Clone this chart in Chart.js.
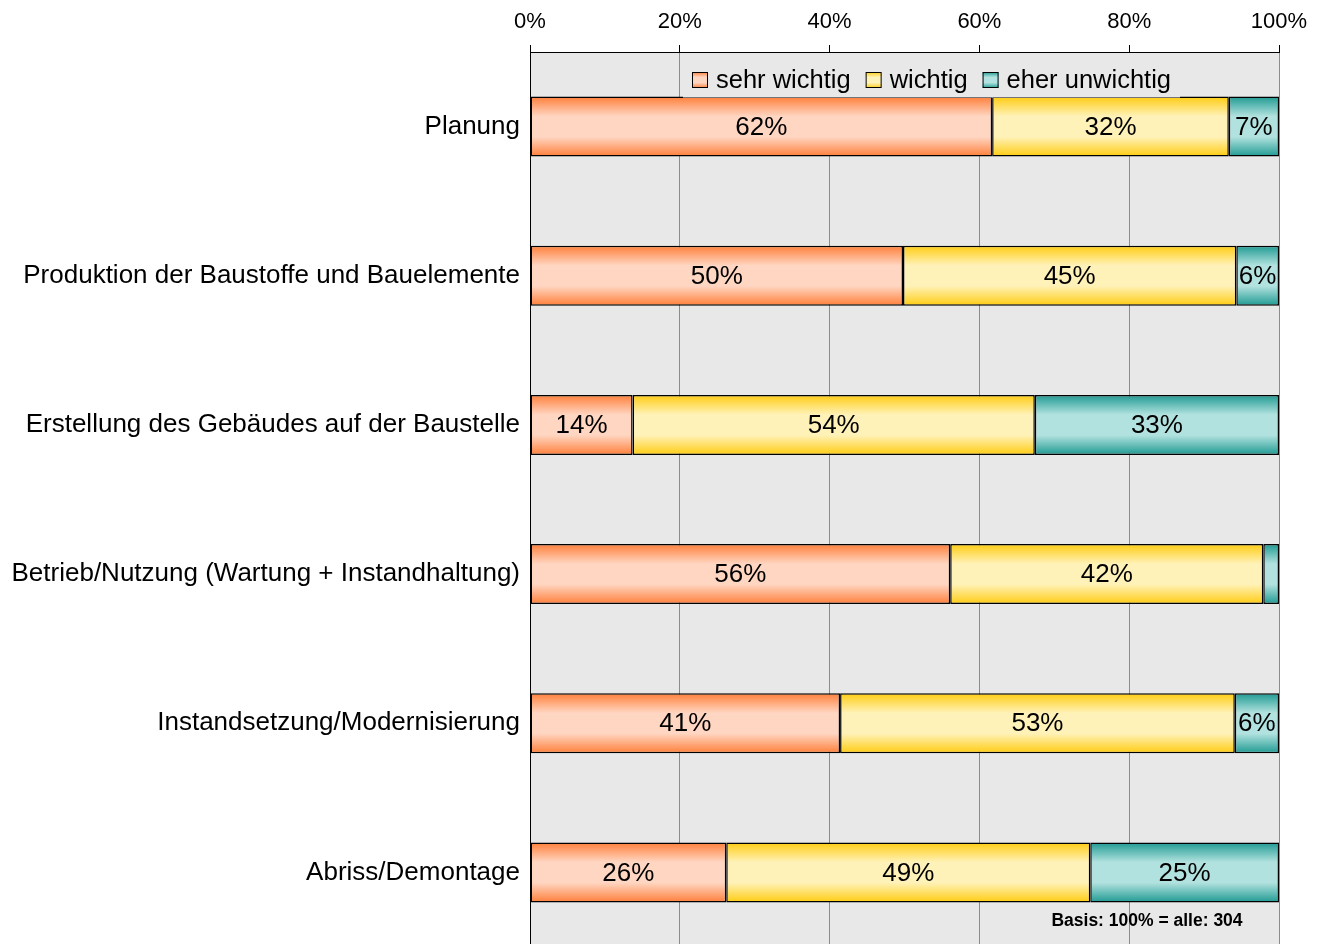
<!DOCTYPE html>
<html>
<head>
<meta charset="utf-8">
<script src="https://cdn.jsdelivr.net/npm/chart.js@4.4.1/dist/chart.umd.min.js"></script>
<style>
  html, body { margin: 0; padding: 0; background: #ffffff; overflow: hidden; }
  #wrap { position: relative; width: 1322px; height: 947px; }
</style>
</head>
<body>
<div id="wrap"><canvas id="c" width="1322" height="947"></canvas></div>
<script>
// ---- data ----
const categories = [
  "Planung",
  "Produktion der Baustoffe und Bauelemente",
  "Erstellung des Gebäudes auf der Baustelle",
  "Betrieb/Nutzung (Wartung + Instandhaltung)",
  "Instandsetzung/Modernisierung",
  "Abriss/Demontage"
];
const seriesNames = ["sehr wichtig", "wichtig", "eher unwichtig"];
const sehrWichtig    = [61.7, 49.8, 13.7, 56.1, 41.4, 26.2];
const wichtig        = [31.6, 44.5, 53.7, 41.8, 52.7, 48.6];
const eherUnwichtig  = [6.7, 5.7, 32.6, 2.1, 5.9, 25.2];
const tickValues = [0, 20, 40, 60, 80, 100];
const basisText = "Basis: 100% = alle: 304";

// ---- styles ----
const FONT = "'Liberation Sans', Arial, sans-serif";
const gradColors = [
  { edge: "#ff7f3a", light: "#ffd6c2" },
  { edge: "#ffcc11", light: "#fff2b8" },
  { edge: "#1f9a92", light: "#b2e2df" }
];
const PLOT_BG = "#e8e8e8";

function makeGrad(ctx, top, bottom, c) {
  const g = ctx.createLinearGradient(0, top, 0, bottom);
  g.addColorStop(0, c.edge);
  g.addColorStop(0.33, c.light);
  g.addColorStop(0.67, c.light);
  g.addColorStop(1, c.edge);
  return g;
}

function barFill(si) {
  return function (context) {
    const chart = context.chart;
    if (!chart.chartArea || !chart.scales.y) return gradColors[si].light;
    const y = chart.scales.y.getPixelForValue(context.dataIndex);
    const h = 60;
    return makeGrad(chart.ctx, y - h / 2, y + h / 2, gradColors[si]);
  };
}

const plotBg = {
  id: "plotBg",
  beforeDraw(chart) {
    const { ctx, chartArea: a } = chart;
    ctx.save();
    ctx.fillStyle = PLOT_BG;
    ctx.fillRect(a.left, a.top, a.right - a.left, a.bottom - a.top);
    ctx.restore();
  }
};

const overlay = {
  id: "overlay",
  afterDatasetsDraw(chart) {
    const ctx = chart.ctx;
    ctx.save();
    // legend box (covers gridlines and top bar border)
    ctx.fillStyle = PLOT_BG;
    ctx.fillRect(683, 53, 497, 44.5);
    ctx.font = "25.5px " + FONT;
    ctx.textBaseline = "middle";
    ctx.textAlign = "left";
    let x = 692;
    const ly = 80;
    seriesNames.forEach((name, i) => {
      ctx.fillStyle = makeGrad(ctx, ly - 8, ly + 8, gradColors[i]);
      ctx.fillRect(x, ly - 8, 16, 16);
      ctx.strokeStyle = "#000";
      ctx.lineWidth = 1;
      ctx.strokeRect(x + 0.5, ly - 7.5, 15, 15);
      ctx.fillStyle = "#000";
      ctx.fillText(name, x + 24, ly + 1);
      x += 24 + ctx.measureText(name).width + 15;
    });

    // data labels
    ctx.font = "26px " + FONT;
    ctx.textAlign = "center";
    ctx.fillStyle = "#000";
    chart.data.datasets.forEach((ds, di) => {
      const meta = chart.getDatasetMeta(di);
      meta.data.forEach((bar, i) => {
        const v = ds.data[i];
        if (v < 3) return;
        const cx = (bar.x + bar.base) / 2;
        ctx.fillText(Math.round(v) + "%", cx, bar.y + 1);
      });
    });

    // basis note
    ctx.font = "bold 17.5px " + FONT;
    ctx.textAlign = "center";
    ctx.fillText(basisText, 1147, 921);
    ctx.restore();
  }
};

new Chart(document.getElementById("c"), {
  type: "bar",
  data: {
    labels: categories,
    datasets: [
      { label: seriesNames[0], data: sehrWichtig, backgroundColor: barFill(0) },
      { label: seriesNames[1], data: wichtig, backgroundColor: barFill(1) },
      { label: seriesNames[2], data: eherUnwichtig, backgroundColor: barFill(2) }
    ]
  },
  options: {
    indexAxis: "y",
    responsive: false,
    animation: false,
    devicePixelRatio: 1,
    layout: { padding: { left: 0, right: 43, top: 0, bottom: 0 } },
    datasets: {
      bar: {
        borderColor: "#000",
        borderWidth: 1.5,
        borderSkipped: false,
        categoryPercentage: 0.402,
        barPercentage: 1
      }
    },
    plugins: { legend: { display: false }, tooltip: { enabled: false } },
    scales: {
      x: {
        position: "top",
        stacked: true,
        min: 0,
        max: 100,
        afterBuildTicks(scale) { scale.ticks = tickValues.map(v => ({ value: v })); },
        afterFit(scale) { scale.height = 52; },
        ticks: {
          callback: v => v + "%",
          color: "#000",
          font: { family: FONT, size: 22 },
          padding: 10,
          maxRotation: 0
        },
        grid: { color: "#8c8c8c", tickColor: "#000", tickLength: 7, lineWidth: 1 },
        border: { display: true, color: "#000", width: 1 }
      },
      y: {
        stacked: true,
        afterFit(scale) {
          scale.width = 530;
          scale.paddingTop = 0;
          scale.paddingBottom = 0;
        },
        ticks: {
          color: "#000",
          font: { family: FONT, size: 26 },
          padding: 10
        },
        grid: { display: false, drawTicks: false, tickLength: 0 },
        border: { display: true, color: "#000", width: 1 }
      }
    }
  },
  plugins: [plotBg, overlay]
});
</script>
</body>
</html>
